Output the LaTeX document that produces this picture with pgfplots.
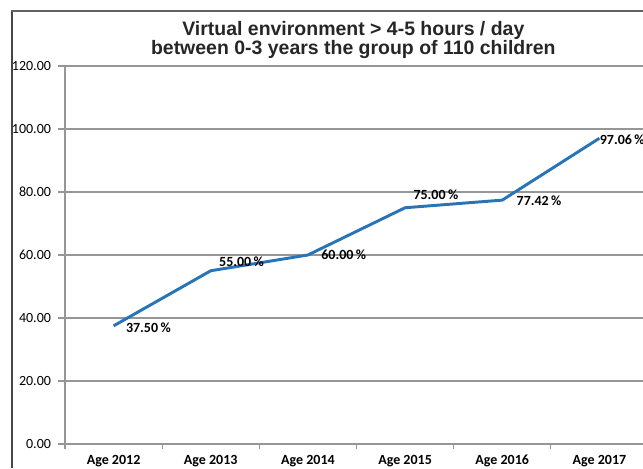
\documentclass[border=0pt]{standalone}
\usepackage{pgfplots}
\pgfplotsset{compat=1.18}
\usepackage{pgfplotstable}
\usepackage{fontspec}
\setmainfont{Carlito}
\newfontfamily\titlefont{Liberation Sans}
\definecolor{lineblue}{RGB}{40,116,184}
\definecolor{gridgray}{RGB}{150,150,150}
\definecolor{framegray}{RGB}{70,70,70}
\pgfplotstableread{
x y dx dy lab
0 37.50 8.25 -1.5 37.50
1 55.00 5.25 6.75 55.00
2 60.00 9.0 0 60.00
3 75.00 5.25 9.75 75.00
4 77.42 9.75 -0.75 77.42
5 97.06 -0.8 -0.75 97.06
}\datatable
\begin{document}
\begin{tikzpicture}
\begin{axis}[
  at={(48.75pt,18pt)}, anchor=south west,
  scale only axis, width=437.25pt, height=283.5pt,
  xmin=-0.5, xmax=5.5, ymin=0, ymax=120,
  axis lines*=left,
  axis line style={gridgray, line width=0.8pt},
  xtick={0,...,5},
  xticklabels={Age 2012,Age 2013,Age 2014,Age 2015,Age 2016,Age 2017},
  major x tick style={draw=none},
  minor xtick={-0.5,0.5,1.5,2.5,3.5,4.5,5.5},
  minor tick length=4pt,
  tick align=outside,
  ytick={0,20,...,120},
  major tick length=5pt,
  tick style={gridgray, line width=0.8pt},
  ymajorgrids,
  major grid style={gridgray, line width=0.8pt},
  yticklabel={\pgfmathprintnumber[fixed,fixed zerofill,precision=2]{\tick}},
  /pgf/number format/assume math mode=true,
  yticklabel style={font=\fontsize{10.5}{12}\selectfont, text=black, xshift=-2pt},
  xticklabel style={font=\fontsize{10.5}{12}\selectfont\bfseries, text=black},
  clip=false,
]
\addplot[lineblue, line width=2.2pt,
  nodes near coords={\pgfplotspointmeta\,\%},
  point meta=explicit symbolic,
  visualization depends on={\thisrow{dx} \as \dx},
  visualization depends on={\thisrow{dy} \as \dy},
  every node near coord/.append style={anchor=west, inner sep=0pt,
    font=\fontsize{10.5}{12}\selectfont\bfseries, text=black,
    xshift=\dx pt, yshift=\dy pt},
] table[x=x, y=y, meta=lab] {\datatable};
\end{axis}
\node[font=\titlefont\bfseries\fontsize{14.6}{14.6}\selectfont, align=center, text=black!85]
  at (265pt,321pt) {Virtual environment > 4-5 hours / day\\between 0-3 years the group of 110 children};
\draw[framegray, line width=2.2pt] (9pt,0) -- (9pt,343pt);
\draw[framegray!85, line width=1.4pt] (8pt,342.75pt) -- (490pt,342.75pt);
\pgfresetboundingbox
\useasboundingbox (0,0) rectangle (482.25pt,351pt);
\end{tikzpicture}
\end{document}
